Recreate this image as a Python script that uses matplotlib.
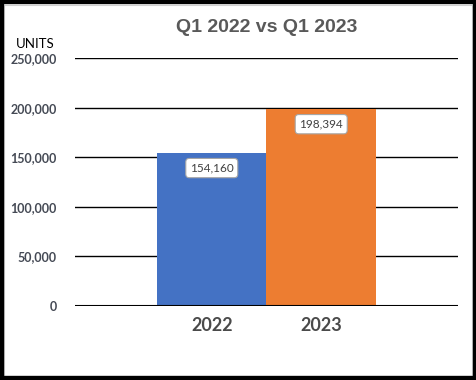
import matplotlib
matplotlib.use("Agg")
import matplotlib.pyplot as plt
from matplotlib.patches import Rectangle

categories = ["2022", "2023"]
values = [154160, 198394]
colors = ["#4472C4", "#ED7D31"]
yticks = [0, 50000, 100000, 150000, 200000, 250000]
ytick_labels = ["0", "50,000", "100,000", "150,000", "200,000", "250,000"]
title = "Q1 2022 vs Q1 2023"
ylabel = "UNITS"

W, H = 477, 380
fig = plt.figure(figsize=(W / 100, H / 100), dpi=100)
fig.patch.set_facecolor("white")

# axes: x 75..458, y 58..306 (pixels from top)
ax = fig.add_axes([75 / W, 1 - 306 / H, (458 - 75) / W, (306 - 58) / H])
x = list(range(len(categories)))
ax.bar(x, values, width=1.0, color=colors, zorder=2)
ax.set_xlim(-1.25, 2.25)
ax.set_ylim(0, 250000)
ax.set_yticks(yticks)
ax.set_yticklabels(ytick_labels, fontfamily="Lato", fontweight="bold",
                   fontsize=9, color="#454a55")
ax.set_xticks(x)
ax.set_xticklabels(categories, fontfamily="Lato", fontweight="bold",
                   fontsize=13, color="#4a4a4a")
ax.tick_params(axis="y", length=0, pad=13)
ax.tick_params(axis="x", length=0, pad=8)
for s in ax.spines.values():
    s.set_visible(False)
for t in yticks[1:]:
    ax.axhline(t, color="black", linewidth=1.0, zorder=1)
ax.axhline(0, color="black", linewidth=1.5, zorder=3)

for xi, v in zip(x, values):
    ax.annotate(f"{v:,}", xy=(xi, v), xytext=(0, -15), textcoords="offset pixels",
                ha="center", va="center", fontfamily="Lato", fontsize=8.5,
                color="#404040", zorder=4,
                bbox=dict(boxstyle="round,pad=0.35,rounding_size=0.3",
                          fc="white", ec="#a6a6a6", lw=0.8))

fig.text(0.5 * (75 + 458) / W, 1 - 27 / H, title, ha="center", va="center",
         fontfamily="Liberation Sans", fontweight="bold", fontsize=14, color="#595959")
fig.text(35 / W, 1 - 44 / H, ylabel, ha="center", va="center",
         fontfamily="Lato", fontsize=9.5, color="black")

# frame
fig.patches.append(Rectangle((0, 0), 1, 1, transform=fig.transFigure,
                             fill=False, ec="black", lw=6, zorder=10))
fig.patches.append(Rectangle((4.5 / W, 4.5 / H), (W - 9) / W, (H - 9) / H,
                             transform=fig.transFigure, fill=False,
                             ec="#d0d0d0", lw=0.8, zorder=9))

fig.savefig("out.png", dpi=100)
